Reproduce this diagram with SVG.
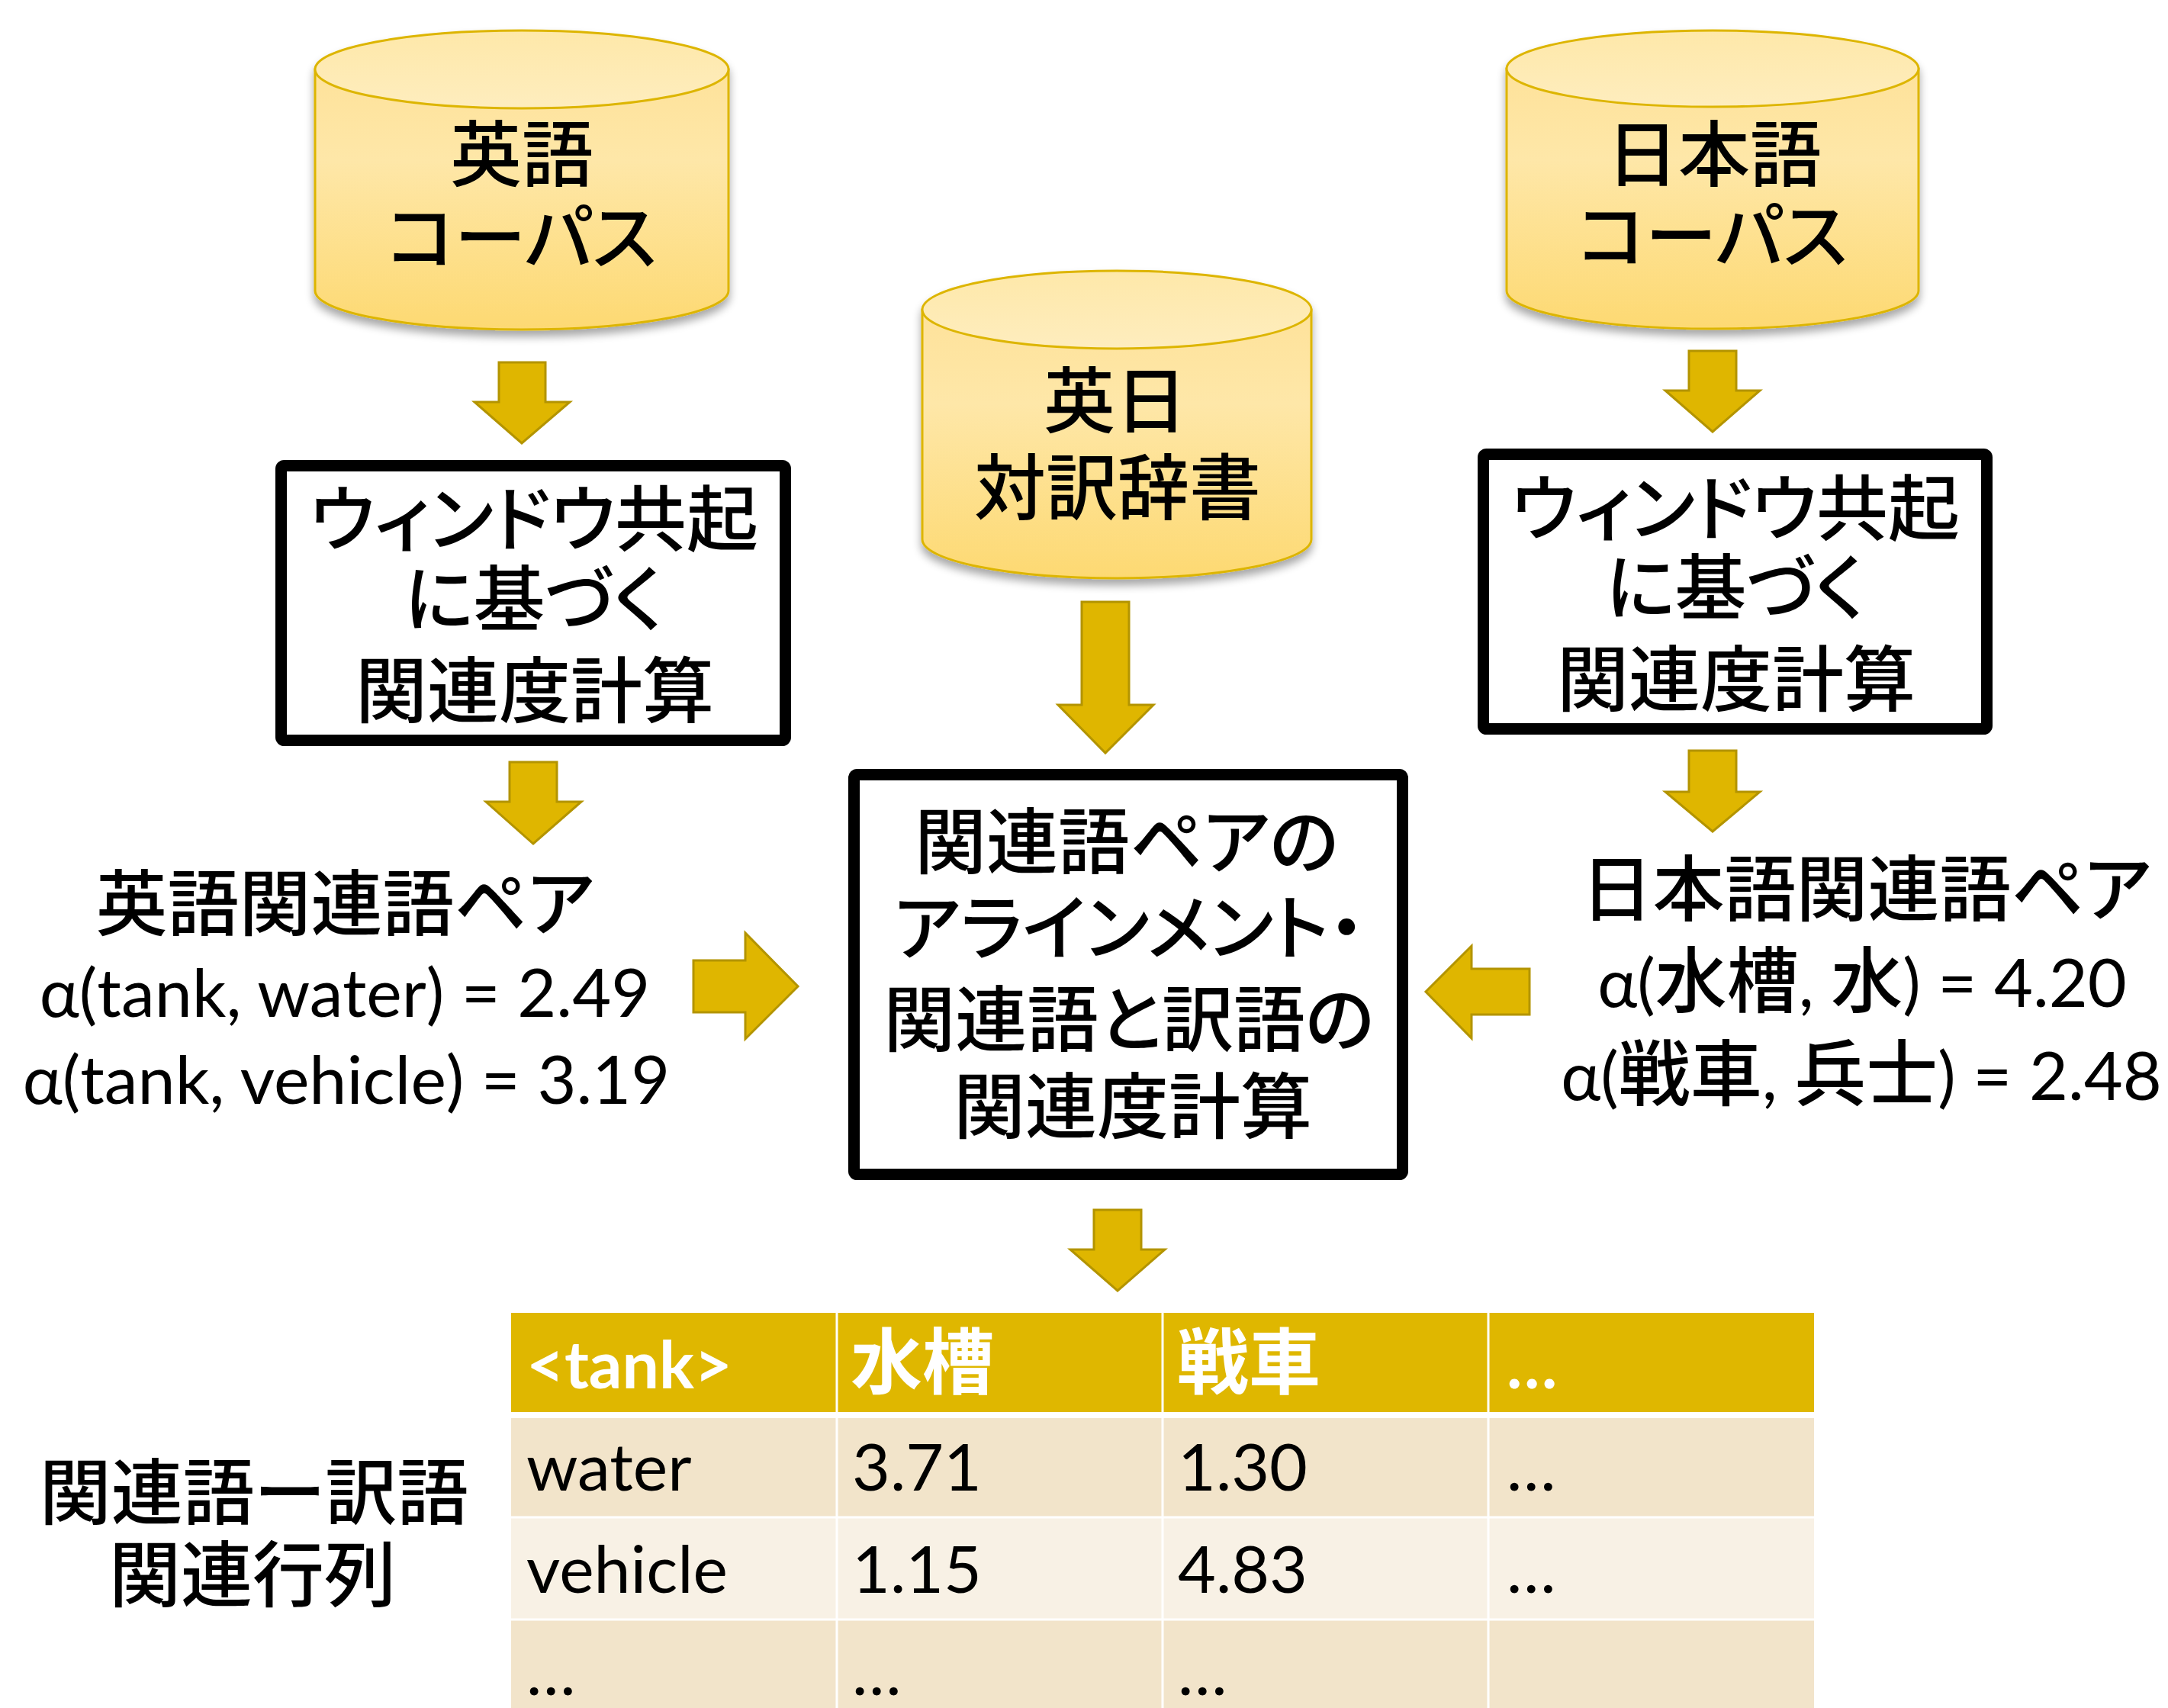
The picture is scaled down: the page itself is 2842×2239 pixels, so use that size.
<svg xmlns="http://www.w3.org/2000/svg" width="2842" height="2239" viewBox="0 0 2842 2239">
<defs>
<linearGradient id="side" x1="0" y1="0" x2="0" y2="1">
<stop offset="0" stop-color="#FEE29A"/>
<stop offset="0.35" stop-color="#FEE7A8"/>
<stop offset="1" stop-color="#FDD972"/>
</linearGradient>
<linearGradient id="topg" x1="0" y1="0" x2="0" y2="1">
<stop offset="0" stop-color="#FEE8A9"/>
<stop offset="1" stop-color="#FEEDBE"/>
</linearGradient>
<filter id="shadow" x="-10%" y="-10%" width="120%" height="130%">
<feGaussianBlur in="SourceAlpha" stdDeviation="6"/>
<feOffset dx="0" dy="8" result="b"/>
<feComponentTransfer><feFuncA type="linear" slope="0.35"/></feComponentTransfer>
<feMerge><feMergeNode/><feMergeNode in="SourceGraphic"/></feMerge>
</filter>
<style>
.cylside{fill:url(#side);stroke:#DDB500;stroke-width:3}
.cyltop{fill:url(#topg);stroke:#DDB500;stroke-width:3}
.box{fill:#FFFFFF;stroke:#000000;stroke-width:15}
.arrow{fill:#DFB600;stroke:#B39400;stroke-width:3;stroke-linejoin:miter}
.jp{font-family:"Noto Sans CJK JP","Noto Sans CJK SC",sans-serif;font-size:94px;font-weight:500;fill:#000;font-feature-settings:"palt"}
.mid{text-anchor:middle}
.lat{font-family:Lato,"Noto Sans","Noto Sans CJK JP",sans-serif;font-size:88px;fill:#000}
.cj{font-family:"Noto Sans CJK JP",sans-serif;font-size:94px;font-weight:500;font-feature-settings:"palt"}
.cell{font-family:Lato,"Noto Sans CJK JP",sans-serif;font-size:86px;fill:#000}
.hdr{font-family:Lato,"Noto Sans CJK JP",sans-serif;font-size:86px;font-weight:700;fill:#FFFFFF}
.hdrj{font-family:"Noto Sans CJK JP",sans-serif;font-size:94px;font-weight:700;fill:#FFFFFF}
</style>
</defs>
<rect width="2842" height="2239" fill="#FFFFFF"/>

<g id="corpus-en" filter="url(#shadow)">
<path class="cylside" d="M413,91 V381 A271,51 0 0 0 955,381 V91 Z"/>
<ellipse class="cyltop" cx="684" cy="91" rx="271" ry="51"/>
<text class="jp mid" x="684" y="237">英語</text>
<text class="jp mid" x="684" y="346">コーパス</text>
</g>

<g id="corpus-ja" filter="url(#shadow)">
<path class="cylside" d="M1975,90 V381 A270,50 0 0 0 2515,381 V90 Z"/>
<ellipse class="cyltop" cx="2245" cy="90" rx="270" ry="50"/>
<text class="jp mid" x="2247" y="237">日本語</text>
<text class="jp mid" x="2245" y="344">コーパス</text>
</g>

<g id="dictionary" filter="url(#shadow)">
<path class="cylside" d="M1209,406 V707 A255,51 0 0 0 1719,707 V406 Z"/>
<ellipse class="cyltop" cx="1464" cy="406" rx="255" ry="51"/>
<text class="jp mid" x="1462" y="560">英日</text>
<text class="jp mid" x="1465" y="674">対訳辞書</text>
</g>

<g id="cooc-en">
<rect class="box" x="368.5" y="610.5" width="661" height="360" rx="4"/>
<text class="jp mid" x="700" y="715">ウィンドウ共起</text>
<text class="jp mid" x="700" y="820">に基づく</text>
<text class="jp mid" x="701" y="940">関連度計算</text>
</g>

<g id="cooc-ja">
<rect class="box" x="1944.5" y="595.5" width="660" height="360" rx="4"/>
<text class="jp mid" x="2275" y="701">ウィンドウ共起</text>
<text class="jp mid" x="2275" y="805">に基づく</text>
<text class="jp mid" x="2276" y="925">関連度計算</text>
</g>

<g id="alignment">
<rect class="box" x="1119.5" y="1015.5" width="719" height="524" rx="4"/>
<text class="jp mid" x="1477" y="1138">関連語ペアの</text>
<text class="jp mid" x="1480" y="1251">アラインメント・</text>
<text class="jp mid" x="1480" y="1371">関連語と訳語の</text>
<text class="jp mid" x="1485" y="1485">関連度計算</text>
</g>

<g id="pairs-en">
<text class="jp mid" x="452" y="1219">英語関連語ペア</text>
<text class="lat mid" x="452" y="1333">α(tank, water) = 2.49</text>
<text class="lat mid" x="454" y="1447">α(tank, vehicle) = 3.19</text>
</g>

<g id="pairs-ja">
<text class="jp mid" x="2446" y="1200">日本語関連語ペア</text>
<text class="lat mid" x="2441" y="1320">α(<tspan class="cj">水槽</tspan>, <tspan class="cj">水</tspan>) = 4.20</text>
<text class="lat mid" x="2440" y="1442">α(<tspan class="cj">戦車</tspan>, <tspan class="cj">兵士</tspan>) = 2.48</text>
</g>

<g id="matrix-label">
<text class="jp mid" x="333" y="1991">関連語ー訳語</text>
<text class="jp mid" x="331" y="2099">関連行列</text>
</g>

<g id="matrix">
<rect x="670" y="1721" width="1708" height="134" fill="#DFB700"/>
<rect x="670" y="1855" width="1708" height="134" fill="#F2E4CA"/>
<rect x="670" y="1989" width="1708" height="134" fill="#F8F1E5"/>
<rect x="670" y="2123" width="1708" height="134" fill="#F2E4CA"/>
<g stroke="#FFFFFF">
<line x1="670" y1="1855" x2="2378" y2="1855" stroke-width="8"/>
<line x1="670" y1="1989" x2="2378" y2="1989" stroke-width="3"/>
<line x1="670" y1="2123" x2="2378" y2="2123" stroke-width="3"/>
<line x1="1097" y1="1721" x2="1097" y2="2239" stroke-width="3"/>
<line x1="1524" y1="1721" x2="1524" y2="2239" stroke-width="3"/>
<line x1="1951" y1="1721" x2="1951" y2="2239" stroke-width="3"/>
</g>
<text class="hdr" x="690" y="1820">&lt;tank&gt;</text>
<text class="hdrj" x="1115" y="1820">水槽</text>
<text class="hdrj" x="1543" y="1820">戦車</text>
<text class="hdr" x="1975" y="1820">…</text>
<text class="cell" x="690" y="1954">water</text>
<text class="cell" x="1117" y="1954">3.71</text>
<text class="cell" x="1544" y="1954">1.30</text>
<text class="cell" x="1975" y="1954">…</text>
<text class="cell" x="690" y="2088">vehicle</text>
<text class="cell" x="1117" y="2088">1.15</text>
<text class="cell" x="1544" y="2088">4.83</text>
<text class="cell" x="1975" y="2088">…</text>
<text class="cell" x="690" y="2222">…</text>
<text class="cell" x="1117" y="2222">…</text>
<text class="cell" x="1544" y="2222">…</text>
</g>

<g id="connectors">
<polygon class="arrow" points="654,475 715,475 715,527 747,527 684,581 622,527 654,527"/>
<polygon class="arrow" points="668,999 730,999 730,1051 762,1051 699,1106 637,1051 668,1051"/>
<polygon class="arrow" points="1418,789 1480,789 1480,924 1512,924 1449,987 1387,924 1418,924"/>
<polygon class="arrow" points="2214,460 2276,460 2276,512 2307,512 2245,566 2183,512 2214,512"/>
<polygon class="arrow" points="2214,984 2276,984 2276,1038 2307,1038 2245,1090 2183,1038 2214,1038"/>
<polygon class="arrow" points="1434,1586 1496,1586 1496,1638 1527,1638 1465,1692 1403,1638 1434,1638"/>
<polygon class="arrow" points="909,1259 977,1259 977,1223 1046,1293 977,1362 977,1327 909,1327"/>
<polygon class="arrow" points="2005,1270 1929,1270 1929,1240 1869,1300 1929,1361 1929,1330 2005,1330"/>
</g>
</svg>
